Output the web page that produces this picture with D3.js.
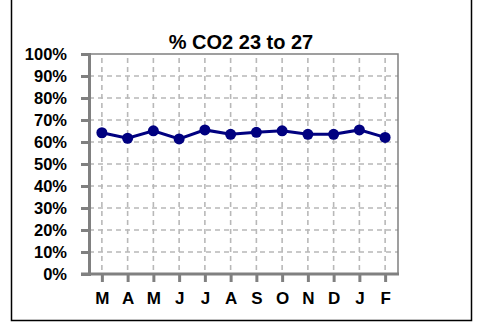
<!DOCTYPE html>
<html><head><meta charset="utf-8">
<script src="https://cdn.jsdelivr.net/npm/d3@7"></script>
<style>body{margin:0;background:#fff}svg{display:block}text{font-family:"Liberation Sans",Arial,sans-serif;font-weight:bold;fill:#000}</style>
</head><body>
<script>
const months = ["M","A","M","J","J","A","S","O","N","D","J","F"];
const co2 = [64.2, 61.7, 65.1, 61.4, 65.5, 63.5, 64.4, 65.1, 63.5, 63.5, 65.5, 62.1];
const yTicks = [0,10,20,30,40,50,60,70,80,90,100];
const title = "% CO2 23 to 27";

const W = 480, H = 325;
const svg = d3.select("body").append("svg").attr("width", W).attr("height", H);

// outer frame
svg.append("path").attr("d", "M11.5,-2V320.5H471.5V-2").attr("fill","none").attr("stroke","#000").attr("stroke-width",1.5);

const L = 89, R = 398, T = 54, B = 274;
const idx = months.map((d,i)=>i);
const x = d3.scaleBand().domain(idx).range([L, R]);
const cx = i => x(i) + x.bandwidth()/2;
const y = d3.scaleLinear().domain([0,100]).range([B, T]);

// gridlines
const g = svg.append("g");
g.selectAll("line.h").data(yTicks.filter(d=>d>0 && d<100)).join("line")
  .attr("x1", L).attr("x2", R).attr("y1", d=>y(d)).attr("y2", d=>y(d))
  .attr("stroke","#b8b8b8").attr("stroke-width",1.6).attr("stroke-dasharray","5,4");
g.selectAll("line.v").data(idx).join("line")
  .attr("x1", cx).attr("x2", cx).attr("y1", T).attr("y2", B)
  .attr("stroke","#b8b8b8").attr("stroke-width",1.6).attr("stroke-dasharray","5,4").attr("stroke-dashoffset",-4);

// top and right borders
svg.append("path").attr("d", `M${L},${T}H${R}V${B}`).attr("fill","none").attr("stroke","#808080").attr("stroke-width",1.5);

// axes
const yAxis = d3.axisLeft(y).tickValues(yTicks).tickFormat(d=>d+"%").tickSize(8).tickPadding(14);
const ya = svg.append("g").attr("transform",`translate(${L},0)`).call(yAxis);
ya.select(".domain").attr("stroke","#808080").attr("stroke-width",3);
ya.selectAll(".tick line").attr("stroke","#808080").attr("stroke-width",3);
ya.selectAll(".tick text").style("font-size","16.5px").style("font-family","'Liberation Sans',Arial,sans-serif").attr("fill","#000");

const xs = d3.scalePoint().domain(idx).range([cx(0), cx(11)]);
const xAxis = d3.axisBottom(xs).tickFormat(i=>months[i]).tickSize(8).tickPadding(10);
const xa = svg.append("g").attr("transform",`translate(0,${B})`).call(xAxis);
xa.select(".domain").remove();
xa.append("line").attr("x1", L-8).attr("x2", R+1).attr("stroke","#808080").attr("stroke-width",3);
xa.selectAll(".tick line").attr("stroke","#808080").attr("stroke-width",3);
xa.selectAll(".tick text").style("font-size","17px").style("font-family","'Liberation Sans',Arial,sans-serif").attr("fill","#000");

// line
const line = d3.line().x((d,i)=>cx(i)).y(d=>y(d));
svg.append("path").datum(co2).attr("d", line).attr("fill","none").attr("stroke","#000080").attr("stroke-width",3);
svg.selectAll("circle.pt").data(co2).join("circle")
  .attr("cx",(d,i)=>cx(i)).attr("cy",d=>y(d)).attr("r",5.5).attr("fill","#000080");

svg.append("text").attr("x", 241).attr("y", 49).attr("text-anchor","middle").style("font-size","20px").text(title);
</script>
</body></html>
